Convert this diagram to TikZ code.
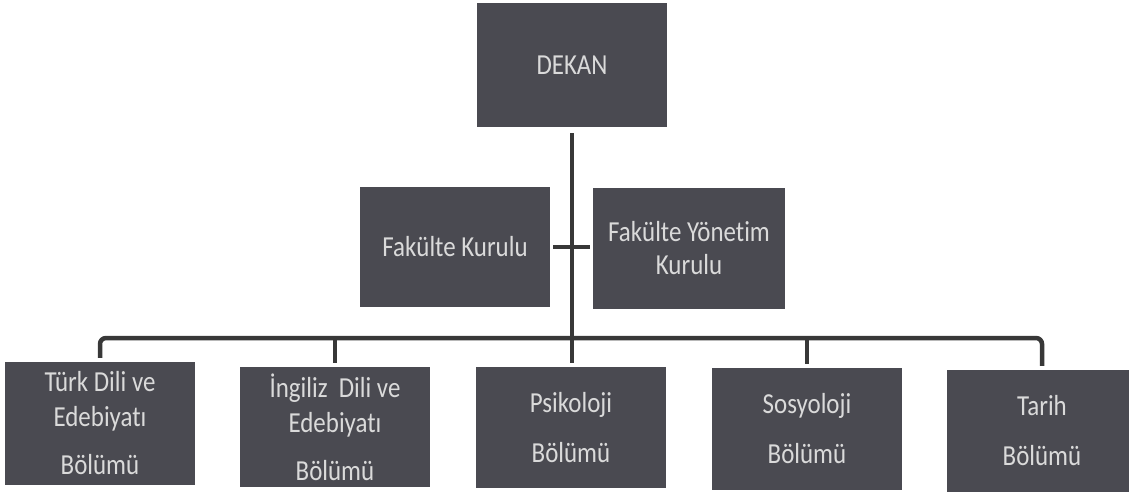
\documentclass[tikz,border=0pt]{standalone}
\usepackage{fontspec}
\setmainfont{Carlito}[FakeStretch=0.86, Ligatures={NoCommon}]
\definecolor{boxgray}{HTML}{4A4A51}
\definecolor{txtgray}{HTML}{DADADA}
\definecolor{linegray}{HTML}{383838}
\begin{document}
\begin{tikzpicture}[x=1pt,y=-1pt,
  box/.style={rectangle, fill=boxgray, text=txtgray, inner sep=0pt, align=center,
    font=\fontsize{29}{33}\selectfont, minimum width=190pt, minimum height=122pt},
  conn/.style={draw=linegray, line width=3.5pt}]
\clip (0,0) rectangle (1129,495);
\fill[white] (0,0) rectangle (1129,495);
% top
\node[box, minimum height=124pt] (dekan) at (572,65) {DEKAN};
\node[box, minimum height=120pt] (fk) at (455,247) {Fakülte Kurulu};
\node[box, minimum width=192pt, minimum height=121pt] (fy) at (689,248) {Fakülte Yönetim\\Kurulu};
% bottom row
\node[box, minimum height=123pt] (b1) at (100,423.5) {Türk Dili ve\\[2pt]Edebiyatı\\[15pt]Bölümü};
\node[box, minimum height=120pt] (b2) at (335,427) {İngiliz\ \ Dili ve\\[2pt]Edebiyatı\\[15pt]Bölümü};
\node[box, minimum height=121pt] (b3) at (571,427.5) {Psikoloji\\[17pt]Bölümü};
\node[box, minimum height=122pt] (b4) at (807,429) {Sosyoloji\\[17pt]Bölümü};
\node[box, minimum height=122pt] (b5) at (1042,431) {Tarih\\[17pt]Bölümü};
% connectors
\coordinate (bus) at (572,338);
\draw[conn, shorten <=6pt, shorten >=4pt] (dekan.south) -- (b3.north -| dekan.south);
\draw[conn, shorten <=3pt, shorten >=3pt] (fk.east) -- (fy.west |- fk.east);
\draw[conn, line width=4.5pt, rounded corners=6pt, shorten <=4pt, shorten >=4pt]
  (b1.north) -- (b1.north |- bus) -- (b5.north |- bus) -- (b5.north);
\draw[conn, shorten >=4pt] (b2.north |- bus) -- (b2.north);
\draw[conn, shorten >=4pt] (b4.north |- bus) -- (b4.north);
\end{tikzpicture}
\end{document}
